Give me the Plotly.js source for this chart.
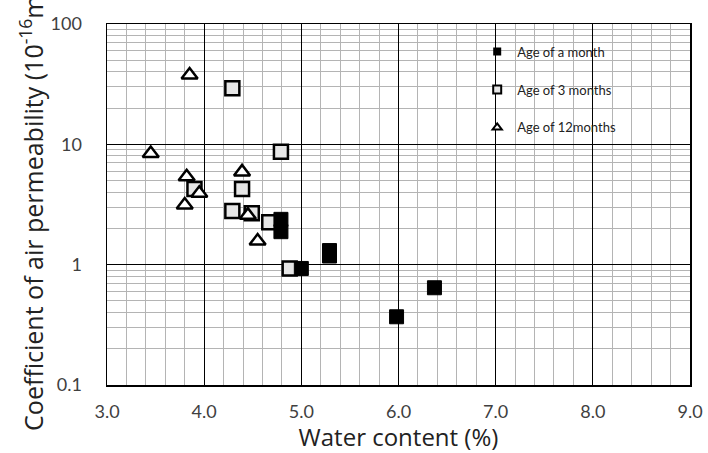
<!DOCTYPE html>
<html><head><meta charset="utf-8">
<script src="https://cdn.plot.ly/plotly-3.0.1.min.js"></script>
<style>body{margin:0;background:#fff}#c{width:708px;height:453px}</style>
</head><body><div id="c"></div>
<script>
const monthX = [4.79, 4.79, 5.29, 5.29, 5.00, 6.37, 5.98];
const monthY = [2.38, 1.88, 1.31, 1.18, 0.93, 0.643, 0.369];
const threeX = [4.29, 4.79, 4.39, 3.90, 4.29, 4.49, 4.67, 4.88];
const threeY = [29.2, 8.68, 4.25, 4.25, 2.79, 2.67, 2.25, 0.93];
const twelveX = [3.85, 3.45, 4.39, 3.82, 3.95, 3.80, 4.45, 4.55];
const twelveY = [37.7, 8.4, 5.9, 5.38, 3.92, 3.13, 2.58, 1.57];
const seriesNames = ['Age of a month', 'Age of 3 months', 'Age of 12months'];
const yTicks = [0.1, 1, 10, 100];
const yTickText = ['0.1', '1', '10', '100'];

const font = 'Lato, "Open Sans", sans-serif';
const styles = [
  {symbol: 'square', color: '#000', line: {color: '#000', width: 1}},
  {symbol: 'square', color: '#e6e6e6', line: {color: '#000', width: 2.5}},
  {symbol: 'triangle-up', color: '#fff', line: {color: '#000', width: 2.5}}
];
const xs = [monthX, threeX, twelveX];
const ys = [monthY, threeY, twelveY];
const traces = [];
// data traces (not in legend)
[1, 2, 0].forEach(i => {
  traces.push({x: xs[i], y: ys[i], name: seriesNames[i], mode: 'markers', type: 'scatter',
    showlegend: false,
    marker: Object.assign({size: 14}, styles[i])});
});
// legend entries with small markers
[0, 1, 2].forEach(i => {
  const st = styles[i];
  traces.push({x: [null], y: [null], name: seriesNames[i], mode: 'markers', type: 'scatter',
    legendgroup: 'g' + i,
    marker: {symbol: st.symbol, size: 8, color: st.color,
             line: {color: '#000', width: i === 0 ? 0 : 2}}});
});
const layout = {
  width: 708, height: 453,
  margin: {l: 107, r: 18, t: 24, b: 68},
  paper_bgcolor: '#fff', plot_bgcolor: '#fff',
  font: {family: font, color: '#404040', size: 18},
  showlegend: true,
  legend: {x: 0.635, y: 0.965, xanchor: 'left', yanchor: 'top', bgcolor: 'rgba(0,0,0,0)',
           traceorder: 'grouped', font: {size: 13, color: '#222'}, itemwidth: 30, tracegroupgap: 18,
           itemsizing: 'trace'},
  shapes: [{type: 'rect', xref: 'paper', yref: 'paper', x0: 0.669, x1: 0.966, y0: 0.665, y1: 0.9695,
            fillcolor: '#fff', line: {width: 0}, layer: 'between'}],
  xaxis: {range: [3, 9], dtick: 1, tickformat: '.1f', showgrid: true, gridcolor: '#000', gridwidth: 1,
          minor: {dtick: 0.2, showgrid: true, gridcolor: '#b4b4b4', gridwidth: 1},
          zeroline: false, showline: true, linecolor: '#000', linewidth: 1.5, mirror: true,
          ticks: '', ticklabelstandoff: 10,
          title: {text: 'Water content (%)', font: {family: '"Open Sans", sans-serif', size: 24, color: '#222'}, standoff: 7}},
  yaxis: {type: 'log', range: [-1, 2], tickvals: yTicks, ticktext: yTickText,
          showgrid: true, gridcolor: '#000', gridwidth: 1,
          minor: {dtick: 'D1', showgrid: true, gridcolor: '#b4b4b4', gridwidth: 1},
          zeroline: false, showline: true, linecolor: '#000', linewidth: 1.5, mirror: true,
          ticks: '', ticklabelstandoff: 20,
          title: {text: 'Coefficient of air permeability (10<sup>-16</sup>m<sup>2</sup>)', font: {family: '"Open Sans", sans-serif', size: 25, color: '#222'}, standoff: 0}}
};
Plotly.newPlot('c', traces, layout, {displayModeBar: false, staticPlot: true});
</script></body></html>
